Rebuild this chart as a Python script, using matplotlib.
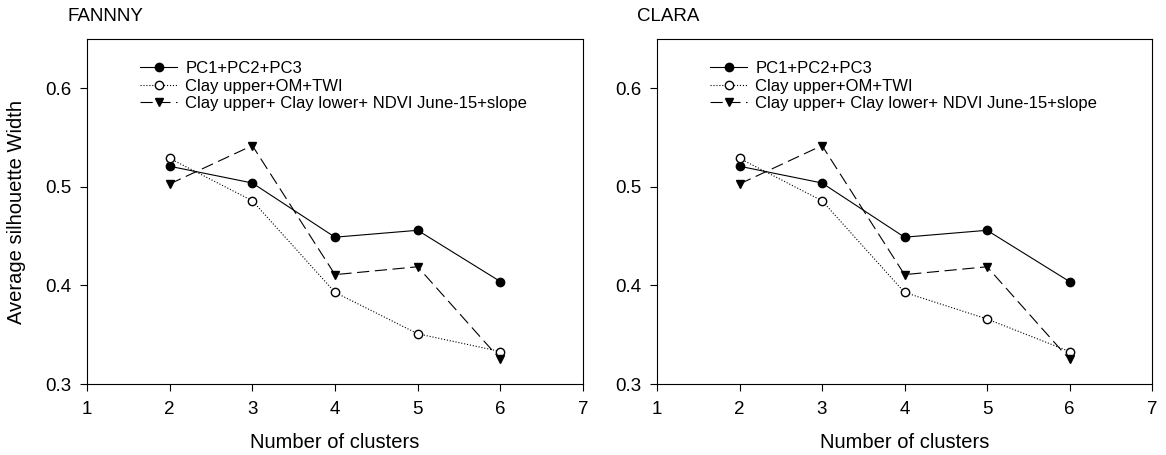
import numpy as np
import matplotlib.pyplot as plt

plt.rcParams['font.family'] = ['Liberation Sans', 'DejaVu Sans']

clusters = [2, 3, 4, 5, 6]
labels = ['PC1+PC2+PC3', 'Clay upper+OM+TWI',
          'Clay upper+ Clay lower+ NDVI June-15+slope']

# FANNY panel
fanny_pc = [0.521, 0.504, 0.449, 0.456, 0.404]
fanny_om = [0.529, 0.486, 0.393, 0.351, 0.333]
fanny_ndvi = [0.503, 0.542, 0.411, 0.419, 0.325]

# CLARA panel
clara_pc = [0.521, 0.504, 0.449, 0.456, 0.404]
clara_om = [0.529, 0.486, 0.393, 0.366, 0.333]
clara_ndvi = [0.503, 0.542, 0.411, 0.419, 0.325]

fig = plt.figure(figsize=(11.66, 4.55), dpi=100)
ax1 = fig.add_axes([0.0746, 0.156, 0.4254, 0.758])
ax2 = fig.add_axes([0.5635, 0.156, 0.4245, 0.758])

panels = [(ax1, 'FANNNY', fanny_pc, fanny_om, fanny_ndvi),
          (ax2, 'CLARA', clara_pc, clara_om, clara_ndvi)]

for ax, title, pc, om, ndvi in panels:
    ax.plot(clusters, pc, '-', color='black', lw=0.8, marker='o', ms=6,
            mfc='black', mec='black', label=labels[0])
    ax.plot(clusters, om, ':', color='black', lw=0.8, marker='o', ms=6,
            mfc='white', mec='black', label=labels[1])
    ax.plot(clusters, ndvi, color='black', lw=0.8, dashes=(11, 5), marker='v',
            ms=6, mfc='black', mec='black', label=labels[2])
    ax.set_xlim(1, 7)
    ax.set_ylim(0.3, 0.65)
    ax.set_xticks([1, 2, 3, 4, 5, 6, 7])
    ax.set_yticks([0.3, 0.4, 0.5, 0.6])
    ax.set_yticklabels(['0.3', '0.4', '0.5', '0.6'])
    ax.tick_params(direction='out', length=5, width=0.8, labelsize=13.5,
                   top=False, right=False)
    ax.tick_params(axis='x', pad=7)
    ax.tick_params(axis='y', pad=6)
    ax.set_xlabel('Number of clusters', fontsize=14.5, labelpad=11)
    ax.set_title(title, loc='left', fontsize=13.5, x=-0.04, pad=13)
    ax.legend(loc='upper left', bbox_to_anchor=(0.094, 0.955), frameon=False,
              fontsize=12, handlelength=2.2, handletextpad=0.5,
              labelspacing=0.15, borderaxespad=0)

ax1.set_ylabel('Average silhouette Width', fontsize=14.5, labelpad=14)

fig.savefig('out.png', dpi=100)
